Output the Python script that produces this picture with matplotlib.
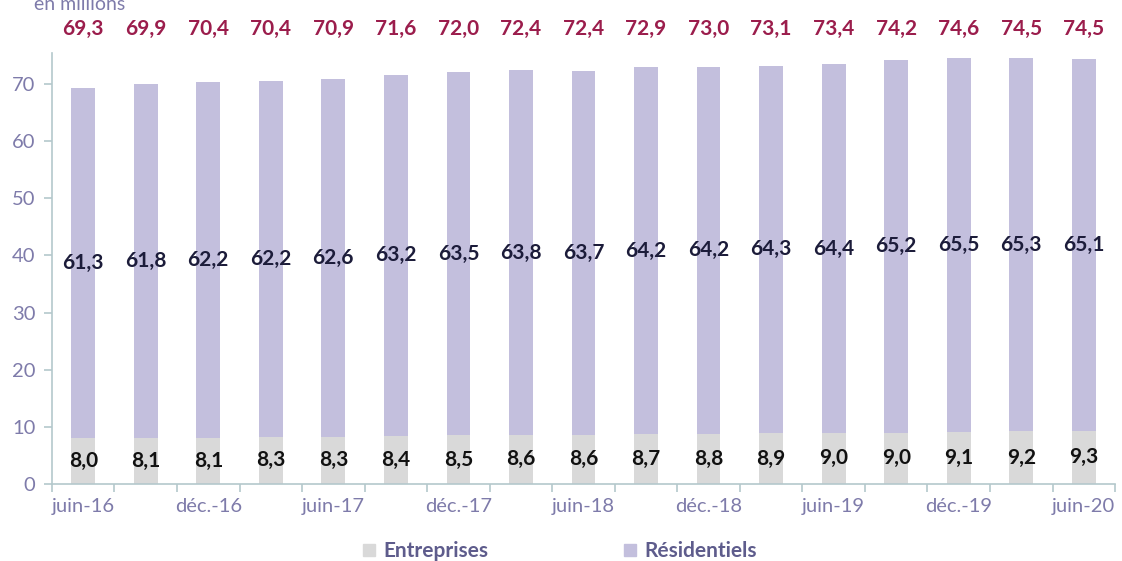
import matplotlib
matplotlib.use("Agg")
from matplotlib import pyplot as plt
from matplotlib.lines import Line2D
from matplotlib.ticker import FixedLocator
import numpy as np

# données
periodes = ["juin-16", "sept.-16", "déc.-16", "mars-17", "juin-17", "sept.-17", "déc.-17", "mars-18",
            "juin-18", "sept.-18", "déc.-18", "mars-19", "juin-19", "sept.-19", "déc.-19", "mars-20", "juin-20"]
entreprises = [8.0, 8.1, 8.1, 8.3, 8.3, 8.4, 8.5, 8.6, 8.6, 8.7, 8.8, 8.9, 9.0, 9.0, 9.1, 9.2, 9.3]
residentiels = [61.3, 61.8, 62.2, 62.2, 62.6, 63.2, 63.5, 63.8, 63.7, 64.2, 64.2, 64.3, 64.4, 65.2, 65.5, 65.3, 65.1]
totaux = [69.3, 69.9, 70.4, 70.4, 70.9, 71.6, 72.0, 72.4, 72.4, 72.9, 73.0, 73.1, 73.4, 74.2, 74.6, 74.5, 74.5]

c_ent = "#D9D9D9"
c_res = "#C3BFDD"
c_axe = "#B4C8CC"
c_txt = "#7E7BAA"

plt.rcParams['font.family'] = ['Lato', 'DejaVu Sans']

fig = plt.figure(figsize=(11.22, 5.61), dpi=100)
ax = fig.add_axes([0.0463, 0.1373, 0.9475, 0.7682])

x = np.arange(len(periodes))
w = 0.38
ax.bar(x, entreprises, w, color=c_ent)
ax.bar(x, residentiels, w, bottom=entreprises, color=c_res)

def fmt(v):
    return "{:.1f}".format(v).replace(".", ",")

for i in range(len(x)):
    ax.text(x[i], entreprises[i] / 2, fmt(entreprises[i]), ha="center", va="center",
            fontsize=15, fontweight="bold", color="#111111")
    ax.text(x[i], entreprises[i] + residentiels[i] / 2, fmt(residentiels[i]), ha="center", va="center",
            fontsize=15, fontweight="bold", color="#1C1C3A")
    ax.text(x[i], 79.6, fmt(totaux[i]), ha="center", va="center",
            fontsize=15, fontweight="bold", color="#9B1D4C", clip_on=False)

ax.set_xlim(-0.5, len(x) - 0.5)
ax.set_ylim(0, 75.4)
ax.set_yticks(range(0, 80, 10))
ax.set_xticks(x[::2])
ax.set_xticklabels(periodes[::2])
ax.xaxis.set_minor_locator(FixedLocator(np.arange(-0.5, len(x), 1.0)))
ax.tick_params(axis="x", which="major", length=0, pad=10, labelsize=14.5, labelcolor=c_txt)
ax.tick_params(axis="x", which="minor", length=6, color=c_axe, width=1.2)
ax.tick_params(axis="y", length=6, color=c_axe, width=1.2, labelsize=14.5, labelcolor=c_txt, pad=6)

for s in ["top", "right"]:
    ax.spines[s].set_visible(False)
ax.spines["left"].set_color(c_axe)
ax.spines["bottom"].set_color(c_axe)
ax.spines["left"].set_linewidth(1.2)
ax.spines["bottom"].set_linewidth(1.2)

fig.text(0.03, 0.992, "en millions", fontsize=14, color=c_txt, va="center")

handles = [Line2D([], [], marker="s", linestyle="", markersize=9, color=c_ent),
           Line2D([], [], marker="s", linestyle="", markersize=9, color=c_res)]
leg = fig.legend(handles, ["Entreprises", "Résidentiels"], loc="center", bbox_to_anchor=(0.497, 0.018),
                 ncol=2, frameon=False, columnspacing=6.3, handletextpad=0.2, handlelength=1.0,
                 prop={"size": 15, "weight": "bold"})
for t in leg.get_texts():
    t.set_color("#5E5C8C")

fig.savefig("out.png", dpi=100)
